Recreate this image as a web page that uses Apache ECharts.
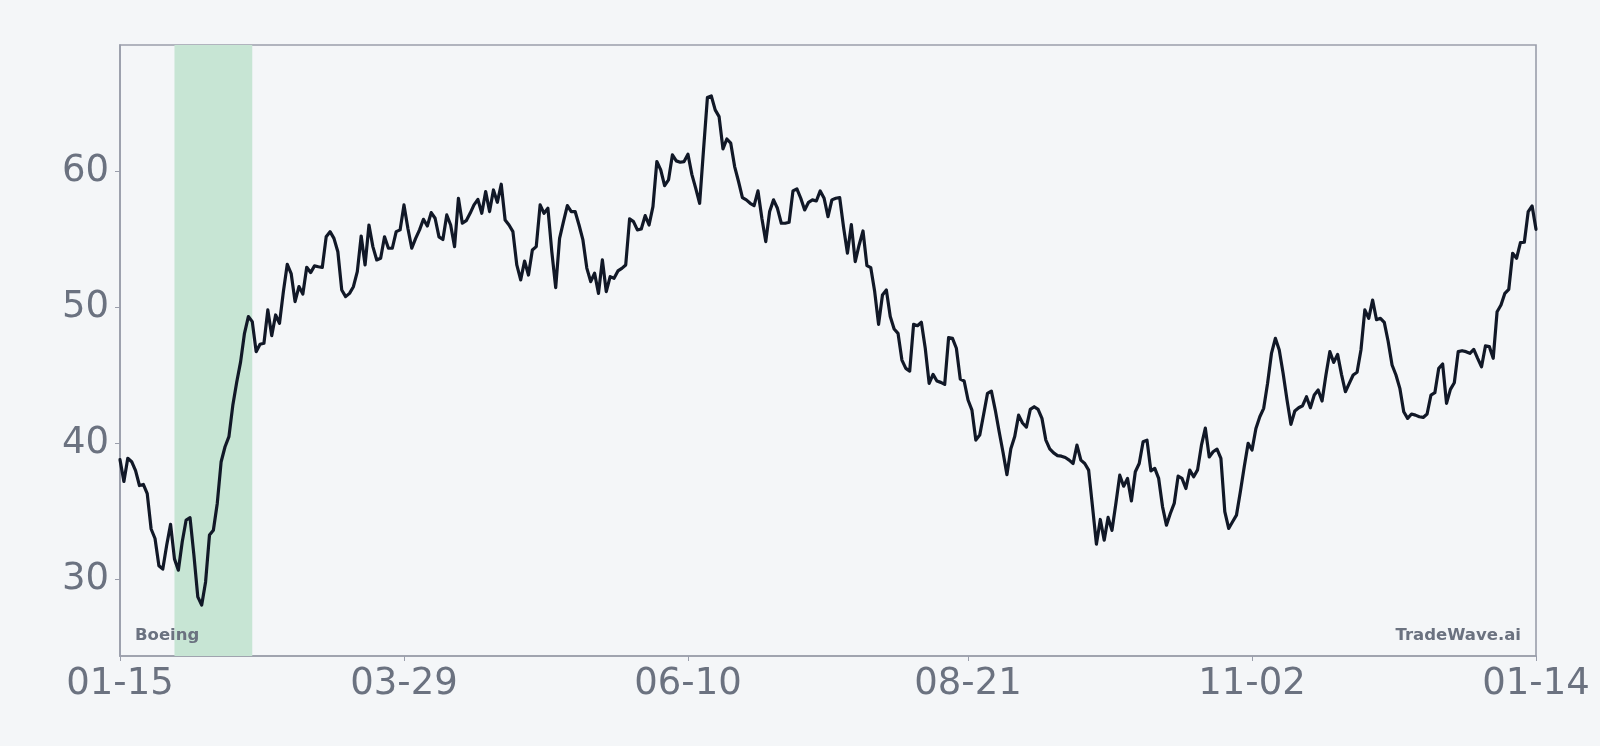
<!DOCTYPE html>
<html>
<head>
<meta charset="utf-8">
<script src="https://cdn.jsdelivr.net/npm/echarts@6/dist/echarts.min.js"></script>
<style>
html,body{margin:0;padding:0;background:#f4f6f8;}
#chart{width:1600px;height:746px;}
</style>
</head>
<body>
<div id="chart"></div>
<script>
// ---- data ----
const startDate = '2023-01-15';
const dayCount = 365;
const values = [
38.8,37.2,38.9,38.65,38.0,36.9,36.98,36.3,33.7,33.0,
31.0,30.75,32.5,34.04,31.5,30.67,32.76,34.36,34.53,31.78,
28.7,28.1,29.8,33.25,33.6,35.58,38.65,39.75,40.5,42.8,
44.5,46.0,48.1,49.33,48.96,46.75,47.3,47.37,49.82,47.93,
49.45,48.84,51.17,53.18,52.5,50.43,51.54,50.99,52.96,52.57,
53.06,53.0,52.95,55.2,55.58,55.09,54.1,51.29,50.8,51.04,
51.53,52.64,55.26,53.13,56.07,54.48,53.5,53.62,55.2,54.36,
54.36,55.58,55.71,57.55,55.83,54.36,55.09,55.71,56.49,56.0,
56.98,56.57,55.2,55.0,56.81,56.07,54.48,58.04,56.2,56.39,
56.93,57.55,57.96,56.93,58.53,57.06,58.65,57.74,59.07,56.44,
56.07,55.58,53.13,52.03,53.42,52.39,54.23,54.48,57.55,56.93,
57.3,54.11,51.46,55.09,56.32,57.5,57.06,57.06,56.07,54.97,
52.9,51.9,52.52,51.04,53.5,51.17,52.27,52.15,52.69,52.88,
53.13,56.52,56.32,55.71,55.78,56.76,56.07,57.42,60.74,60.13,
58.97,59.39,61.23,60.79,60.69,60.74,61.28,59.8,58.77,57.67,
61.6,65.45,65.57,64.54,64.05,61.67,62.4,62.09,60.37,59.27,
58.09,57.92,57.67,57.5,58.58,56.57,54.85,57.06,57.92,57.3,
56.2,56.2,56.27,58.58,58.73,58.04,57.18,57.74,57.92,57.84,
58.58,58.04,56.69,57.92,58.04,58.09,55.9,54.0,56.1,53.38,
54.6,55.63,53.08,52.93,51.17,48.76,50.92,51.29,49.33,48.42,
48.1,46.13,45.52,45.32,48.76,48.66,48.91,47.0,44.42,45.08,
44.59,44.49,44.34,47.78,47.73,47.0,44.73,44.59,43.19,42.45,
40.24,40.61,42.13,43.68,43.85,42.45,40.86,39.33,37.7,39.6,
40.5,42.08,41.5,41.2,42.5,42.7,42.5,41.84,40.24,39.6,
39.3,39.1,39.06,38.96,38.77,38.52,39.87,38.77,38.52,38.03,
35.33,32.58,34.4,32.88,34.55,33.6,35.58,37.66,36.85,37.42,
35.77,37.91,38.52,40.12,40.24,37.98,38.16,37.42,35.33,33.98,
34.84,35.58,37.59,37.42,36.68,38.03,37.54,38.05,39.87,41.12,
39.0,39.38,39.58,38.89,34.97,33.74,34.23,34.72,36.44,38.28,
40.0,39.51,41.1,41.96,42.58,44.42,46.62,47.73,46.87,45.15,
43.19,41.4,42.38,42.62,42.77,43.43,42.62,43.56,43.93,43.12,
45.03,46.75,45.96,46.55,45.08,43.8,44.42,45.03,45.23,46.87,
49.82,49.2,50.55,49.1,49.2,48.9,47.5,45.77,45.03,44.05,
42.33,41.84,42.16,42.08,41.96,41.91,42.16,43.56,43.73,45.52,
45.84,42.94,43.97,44.46,46.75,46.82,46.75,46.63,46.92,46.26,
45.64,47.17,47.12,46.26,49.69,50.18,51.04,51.34,53.99,53.62,
54.77,54.8,57.06,57.47,55.75
];
const xTickLabels = ['01-15','03-29','06-10','08-21','11-02','01-14'];
const yTicks = [30, 40, 50, 60];
const highlightRange = ['01-29','02-18'];
const seriesName = 'Boeing';
const watermark = 'TradeWave.ai';

// ---- categories ----
const categories = [];
(function(){
  const d = new Date(startDate + 'T00:00:00Z');
  for (let i = 0; i < dayCount; i++) {
    const m = String(d.getUTCMonth()+1).padStart(2,'0');
    const dd = String(d.getUTCDate()).padStart(2,'0');
    categories.push(m + '-' + dd);
    d.setUTCDate(d.getUTCDate()+1);
  }
})();
const tickIdx = new Set();
xTickLabels.forEach(function(l, k){
  let idx = (k === xTickLabels.length-1) ? categories.lastIndexOf(l) : categories.indexOf(l);
  tickIdx.add(idx);
});

const vmin = Math.min.apply(null, values), vmax = Math.max.apply(null, values);
const pad = (vmax - vmin) * 0.1;

const textColor = '#6b7280';
const frameColor = '#9a9eab';

const chart = echarts.init(document.getElementById('chart'), null, {renderer:'canvas'});
chart.setOption({
  backgroundColor: '#f4f6f8',
  animation: false,
  grid: {left: 120, right: 64, top: 45, bottom: 90, show: true, borderColor: frameColor, borderWidth: 1.6, backgroundColor: 'transparent'},
  xAxis: {
    type: 'category',
    data: categories,
    boundaryGap: false,
    axisLine: {show: true, lineStyle: {color: frameColor, width: 1.6}},
    axisTick: {show: true, length: 5, lineStyle: {color: frameColor, width: 1}, interval: function(i){ return tickIdx.has(i); }},
    axisLabel: {interval: function(i){ return tickIdx.has(i); }, color: textColor, fontSize: 37, fontFamily: 'DejaVu Sans', margin: 10},
    splitLine: {show: false}
  },
  yAxis: {
    type: 'value',
    min: vmin - pad,
    max: vmax + pad,
    axisLine: {show: true, lineStyle: {color: frameColor, width: 1.6}},
    axisTick: {show: true, length: 5, lineStyle: {color: frameColor, width: 1}, customValues: yTicks},
    axisLabel: {color: textColor, fontSize: 37, fontFamily: 'DejaVu Sans', margin: 11, customValues: yTicks, padding: [14, 0, 0, 0]},
    splitLine: {show: false}
  },
  series: [{
    name: seriesName,
    type: 'line',
    data: values,
    showSymbol: false,
    smooth: false,
    lineStyle: {color: '#111827', width: 3.2, join: 'round', cap: 'round'},
    markArea: {
      silent: true,
      itemStyle: {color: '#c7e5d4'},
      data: [[{xAxis: highlightRange[0]}, {xAxis: highlightRange[1]}]]
    },
    z: 3
  }],
  graphic: [
    {type: 'text', left: 135, top: 627, z: 100, style: {text: seriesName, fill: textColor, font: 'bold 16.5px "DejaVu Sans"'}},
    {type: 'text', right: 79, top: 627, z: 100, style: {text: watermark, fill: textColor, font: 'bold 16.5px "DejaVu Sans"'}}
  ]
});
</script>
</body>
</html>
